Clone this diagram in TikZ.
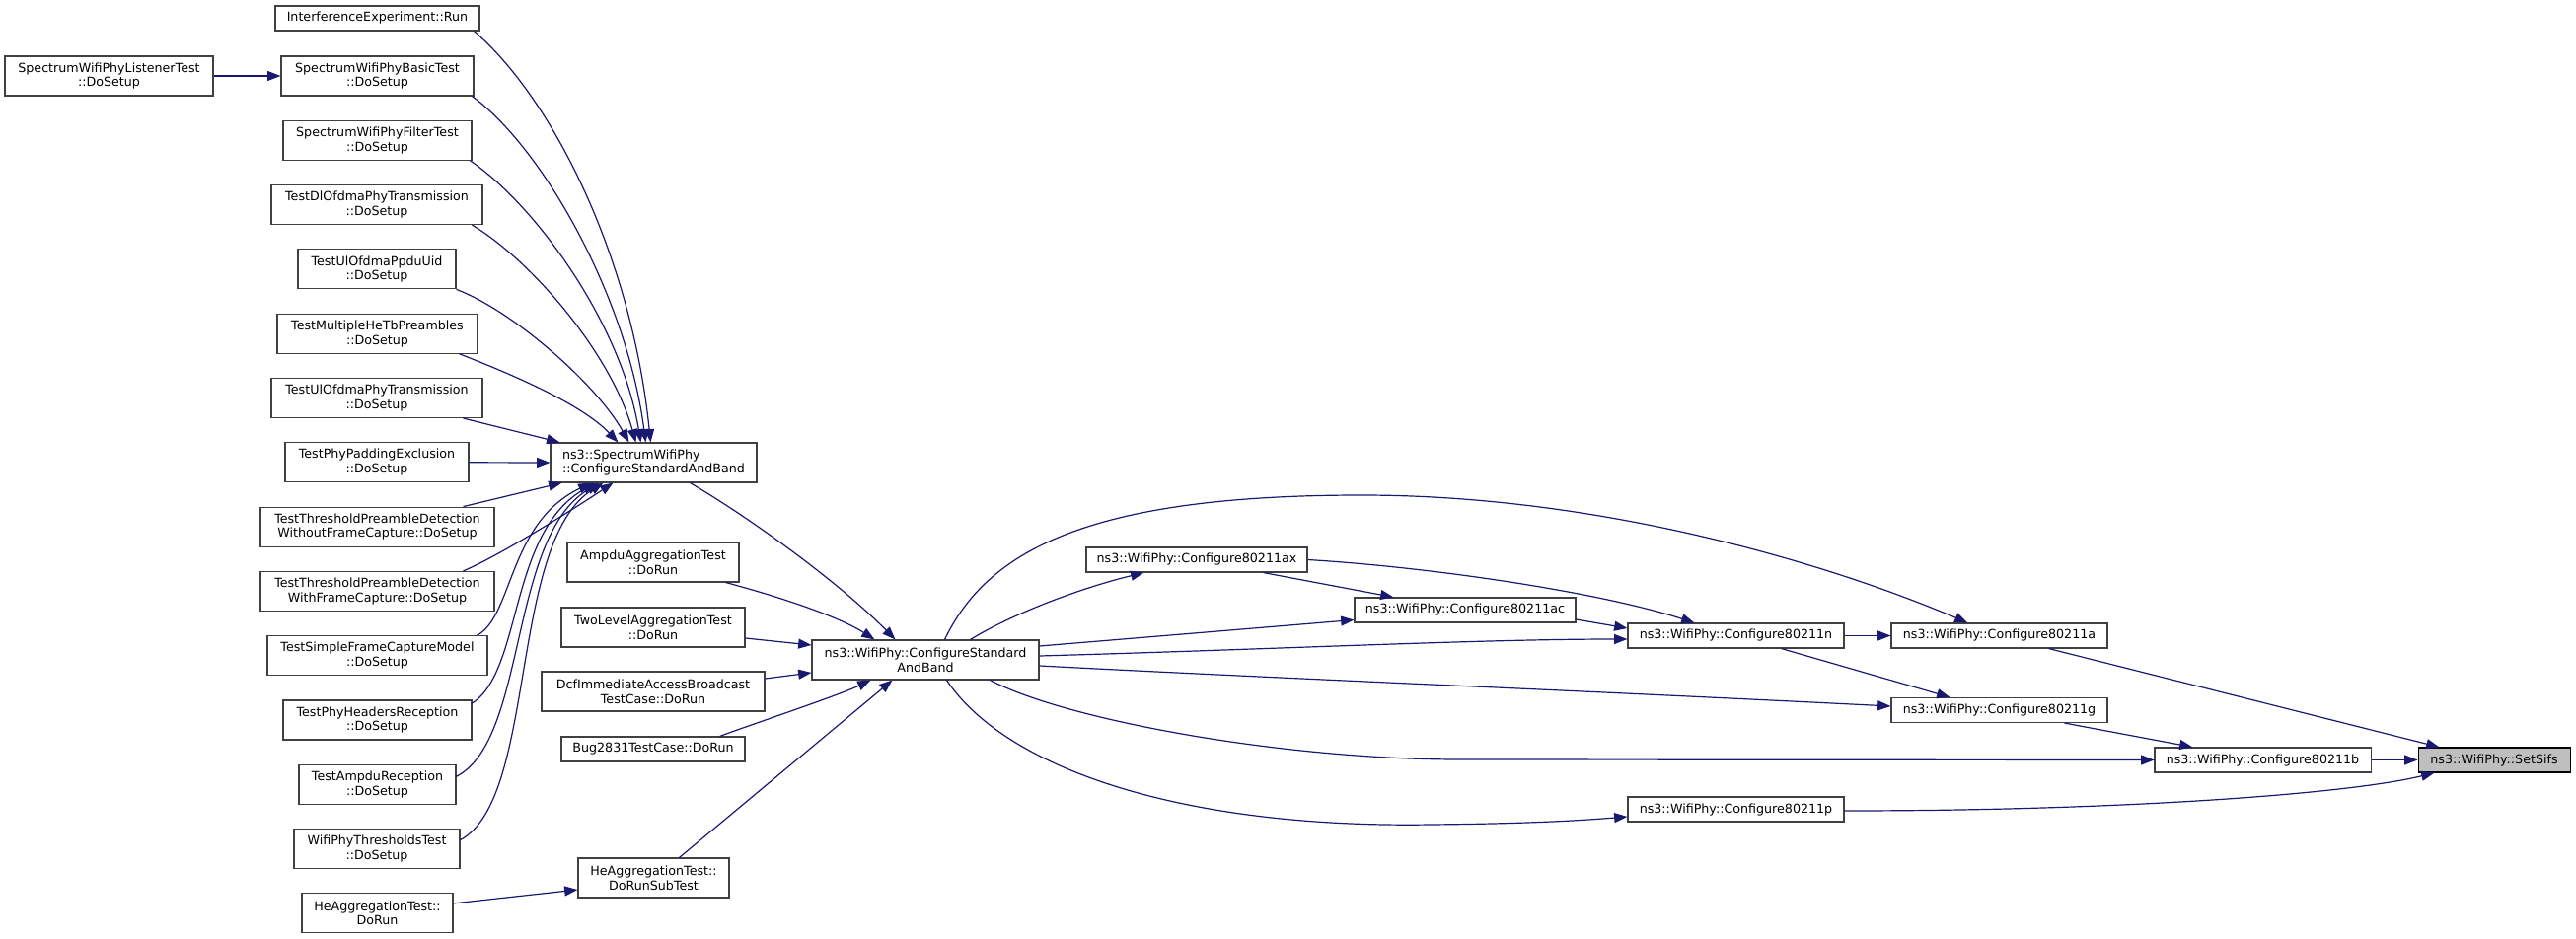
\documentclass[tikz,border=0pt]{standalone}
\usepackage{fontspec}
\setmainfont{DejaVu Sans}
\usetikzlibrary{arrows.meta}
\definecolor{edgec}{HTML}{191970}
\definecolor{bord}{HTML}{404040}
\definecolor{rootfill}{HTML}{BFBFBF}
\tikzset{
  box/.style={draw=bord, line width=0.8pt, fill=white, inner sep=0pt,
    font=\fontsize{9.5pt}{11pt}\selectfont, align=center},
  rootbox/.style={box, draw=black, fill=rootfill},
  sz/.style 2 args={minimum width={#1*0.75pt}, minimum height={#2*0.75pt}},
  edge/.style={draw=edgec, line width=0.9pt, -{Triangle[length=10pt,width=7.5pt]}},
  dx/.style={xshift={(#1)*0.75pt}},
  dy/.style={yshift={-(#1)*0.75pt}},
}
\begin{document}
\begin{tikzpicture}[x=0.75pt,y=-0.75pt]
\useasboundingbox (0,0) rectangle (2611,952);
% column 1
\node[box, sz={211}{40}] (lst) at (110.5,77) {SpectrumWifiPhyListenerTest\\::DoSetup};
% column 2
\node[box, sz={207}{25}] (ie) at (382.5,18.5) {InterferenceExperiment::Run};
\node[box, sz={195}{40}] (bas) at (382.5,77) {SpectrumWifiPhyBasicTest\\::DoSetup};
\node[box, sz={191}{40}] (fil) at (382.5,142.3) {SpectrumWifiPhyFilterTest\\::DoSetup};
\node[box, sz={214}{40}] (dl) at (382,207.6) {TestDlOfdmaPhyTransmission\\::DoSetup};
\node[box, sz={160}{40}] (ppdu) at (382,272.9) {TestUlOfdmaPpduUid\\::DoSetup};
\node[box, sz={203}{40}] (mhe) at (382.5,338.2) {TestMultipleHeTbPreambles\\::DoSetup};
\node[box, sz={214}{40}] (ulp) at (382,403.5) {TestUlOfdmaPhyTransmission\\::DoSetup};
\node[box, sz={186}{40}] (pad) at (382,468.8) {TestPhyPaddingExclusion\\::DoSetup};
\node[box, sz={237}{40}] (wo) at (382.5,534.1) {TestThresholdPreambleDetection\\WithoutFrameCapture::DoSetup};
\node[box, sz={237}{40}] (wi) at (382.5,599.4) {TestThresholdPreambleDetection\\WithFrameCapture::DoSetup};
\node[box, sz={223}{40}] (sfc) at (382.5,664.7) {TestSimpleFrameCaptureModel\\::DoSetup};
\node[box, sz={191}{40}] (hdr) at (382.5,730) {TestPhyHeadersReception\\::DoSetup};
\node[box, sz={159}{40}] (amr) at (382.5,795.3) {TestAmpduReception\\::DoSetup};
\node[box, sz={168}{40}] (thr) at (382,860.6) {WifiPhyThresholdsTest\\::DoSetup};
\node[box, sz={153}{40}] (hed) at (382.5,925.9) {HeAggregationTest::\\DoRun};
% column 3
\node[box, sz={209}{40}, align=left] (spec) at (662.5,469) {ns3::SpectrumWifiPhy\\::ConfigureStandardAndBand};
\node[box, sz={174}{40}] (aag) at (662,570) {AmpduAggregationTest\\::DoRun};
\node[box, sz={186}{40}] (tl) at (662,636) {TwoLevelAggregationTest\\::DoRun};
\node[box, sz={226}{40}] (dcf) at (662,701) {DcfImmediateAccessBroadcast\\TestCase::DoRun};
\node[box, sz={186}{25}] (bug) at (662,759.5) {Bug2831TestCase::DoRun};
\node[box, sz={153}{40}] (sub) at (662.5,890) {HeAggregationTest::\\DoRunSubTest};
% column 4+
\node[box, sz={230}{40}] (wcsab) at (938,669) {ns3::WifiPhy::ConfigureStandard\\AndBand};
\node[box, sz={224}{25}] (ax) at (1213,567.5) {ns3::WifiPhy::Configure80211ax};
\node[box, sz={224}{25}] (ac) at (1485,618.5) {ns3::WifiPhy::Configure80211ac};
\node[box, sz={219}{25}] (n) at (1759.5,644.5) {ns3::WifiPhy::Configure80211n};
\node[box, sz={219}{25}] (p) at (1759.5,820.5) {ns3::WifiPhy::Configure80211p};
\node[box, sz={219}{25}] (a) at (2026.5,644.5) {ns3::WifiPhy::Configure80211a};
\node[box, sz={219}{25}] (g) at (2026.5,720) {ns3::WifiPhy::Configure80211g};
\node[box, sz={219}{25}] (b) at (2293.5,770.5) {ns3::WifiPhy::Configure80211b};
\node[rootbox, sz={154}{25}] (sifs) at (2528,770.5) {ns3::WifiPhy::SetSifs};
% edges into SpectrumWifiPhy::ConfigureStandardAndBand
\draw[edge] (lst.east) -- (bas.west);
\draw[edge] ([dx=-6]ie.south east) .. controls (560,100) and (640,260) .. ([dx=102]spec.north west);
\draw[edge] ([dx=-2]bas.south east) .. controls (550,150) and (635,300) .. ([dx=97]spec.north west);
\draw[edge] ([dx=-2]fil.south east) .. controls (545,210) and (630,330) .. ([dx=92]spec.north west);
\draw[edge] ([dx=-11]dl.south east) .. controls (540,265) and (620,360) .. ([dx=87]spec.north west);
\draw[edge] (ppdu.south east) .. controls (520,315) and (605,390) .. ([dx=80]spec.north west);
\draw[edge] ([dx=-19]mhe.south east) .. controls (520,380) and (590,410) .. ([dx=69]spec.north west);
\draw[edge] ([dx=-20]ulp.south east) -- ([dx=10]spec.north west);
\draw[edge] (pad.east) -- (spec.west);
\draw[edge] ([dx=-32]wo.north east) -- ([dx=12]spec.south west);
\draw[edge] ([dx=-32]wi.north east) .. controls (500,566) and (560,530) .. ([dx=64]spec.south west);
\draw[edge] ([dx=-11]sfc.north east) .. controls (520,625) and (515,530) .. ([dx=42]spec.south west);
\draw[edge] ([dy=-17]hdr.east) .. controls (530,680) and (515,540) .. ([dx=46]spec.south west);
\draw[edge] ([dy=-8]amr.east) .. controls (535,750) and (515,545) .. ([dx=50]spec.south west);
\draw[edge] ([dy=-9]thr.east) .. controls (545,810) and (515,550) .. ([dx=54]spec.south west);
% edges into WifiPhy::ConfigureStandardAndBand
\draw[edge] ([dx=142]spec.south west) .. controls (760,525) and (850,590) .. ([dx=85]wcsab.north west);
\draw[edge] ([dx=-14]aag.south east) .. controls (790,605) and (850,625) .. ([dx=64]wcsab.north west);
\draw[edge] ([dy=11]tl.east) -- ([dy=-15]wcsab.west);
\draw[edge] ([dy=-13]dcf.east) -- ([dy=13]wcsab.west);
\draw[edge] ([dx=-26]bug.north east) .. controls (760,735) and (850,705) .. ([dx=60]wcsab.south west);
\draw[edge] ([dx=103]sub.north west) -- ([dx=82]wcsab.south west);
\draw[edge] ([dy=-10]hed.east) -- ([dy=12]sub.west);
% edges out of WifiPhy::ConfigureStandardAndBand
\draw[edge] ([dx=161]wcsab.north west) .. controls (1030,620) and (1100,595) .. ([dx=59]ax.south west);
\draw[edge] ([dy=-14]wcsab.east) -- ([dy=10]ac.west);
\draw[edge] ([dy=-4]wcsab.east) .. controls (1300,658) and (1500,648) .. ([dy=3.5]n.west);
\draw[edge] ([dx=135]wcsab.north west) .. controls (1000,560) and (1100,502) .. (1380,502)
   .. controls (1620,502) and (1850,570) .. ([dx=78]a.north west);
\draw[edge] ([dy=6]wcsab.east) .. controls (1300,688) and (1600,700) .. ([dy=-4]g.west);
\draw[edge] ([dx=181]wcsab.south west) .. controls (1080,730) and (1300,770) .. (1480,770) -- (b.west);
\draw[edge] ([dx=137]wcsab.south west) .. controls (1020,780) and (1200,840) .. (1450,836)
   .. controls (1550,835) and (1600,832) .. ([dy=7.5]p.west);
% 802.11 chain
\draw[edge] ([dx=180]ax.south west) -- ([dx=40]ac.north west);
\draw[edge] (ax.east) .. controls (1450,575) and (1620,600) .. ([dx=68]n.north west);
\draw[edge] ([dy=9.5]ac.east) -- ([dy=-7.5]n.west);
\draw[edge] (n.east) -- (a.west);
\draw[edge] ([dx=156]n.south west) -- ([dx=60]g.north west);
\draw[edge] ([dx=160]a.south west) -- ([dx=22]sifs.north west);
\draw[edge] ([dx=176]g.south west) -- ([dx=39]b.north west);
\draw[edge] (b.east) -- (sifs.west);
\draw[edge] ([dy=1.5]p.east) .. controls (2150,822) and (2380,805) .. ([dx=17]sifs.south west);
\end{tikzpicture}
\end{document}
